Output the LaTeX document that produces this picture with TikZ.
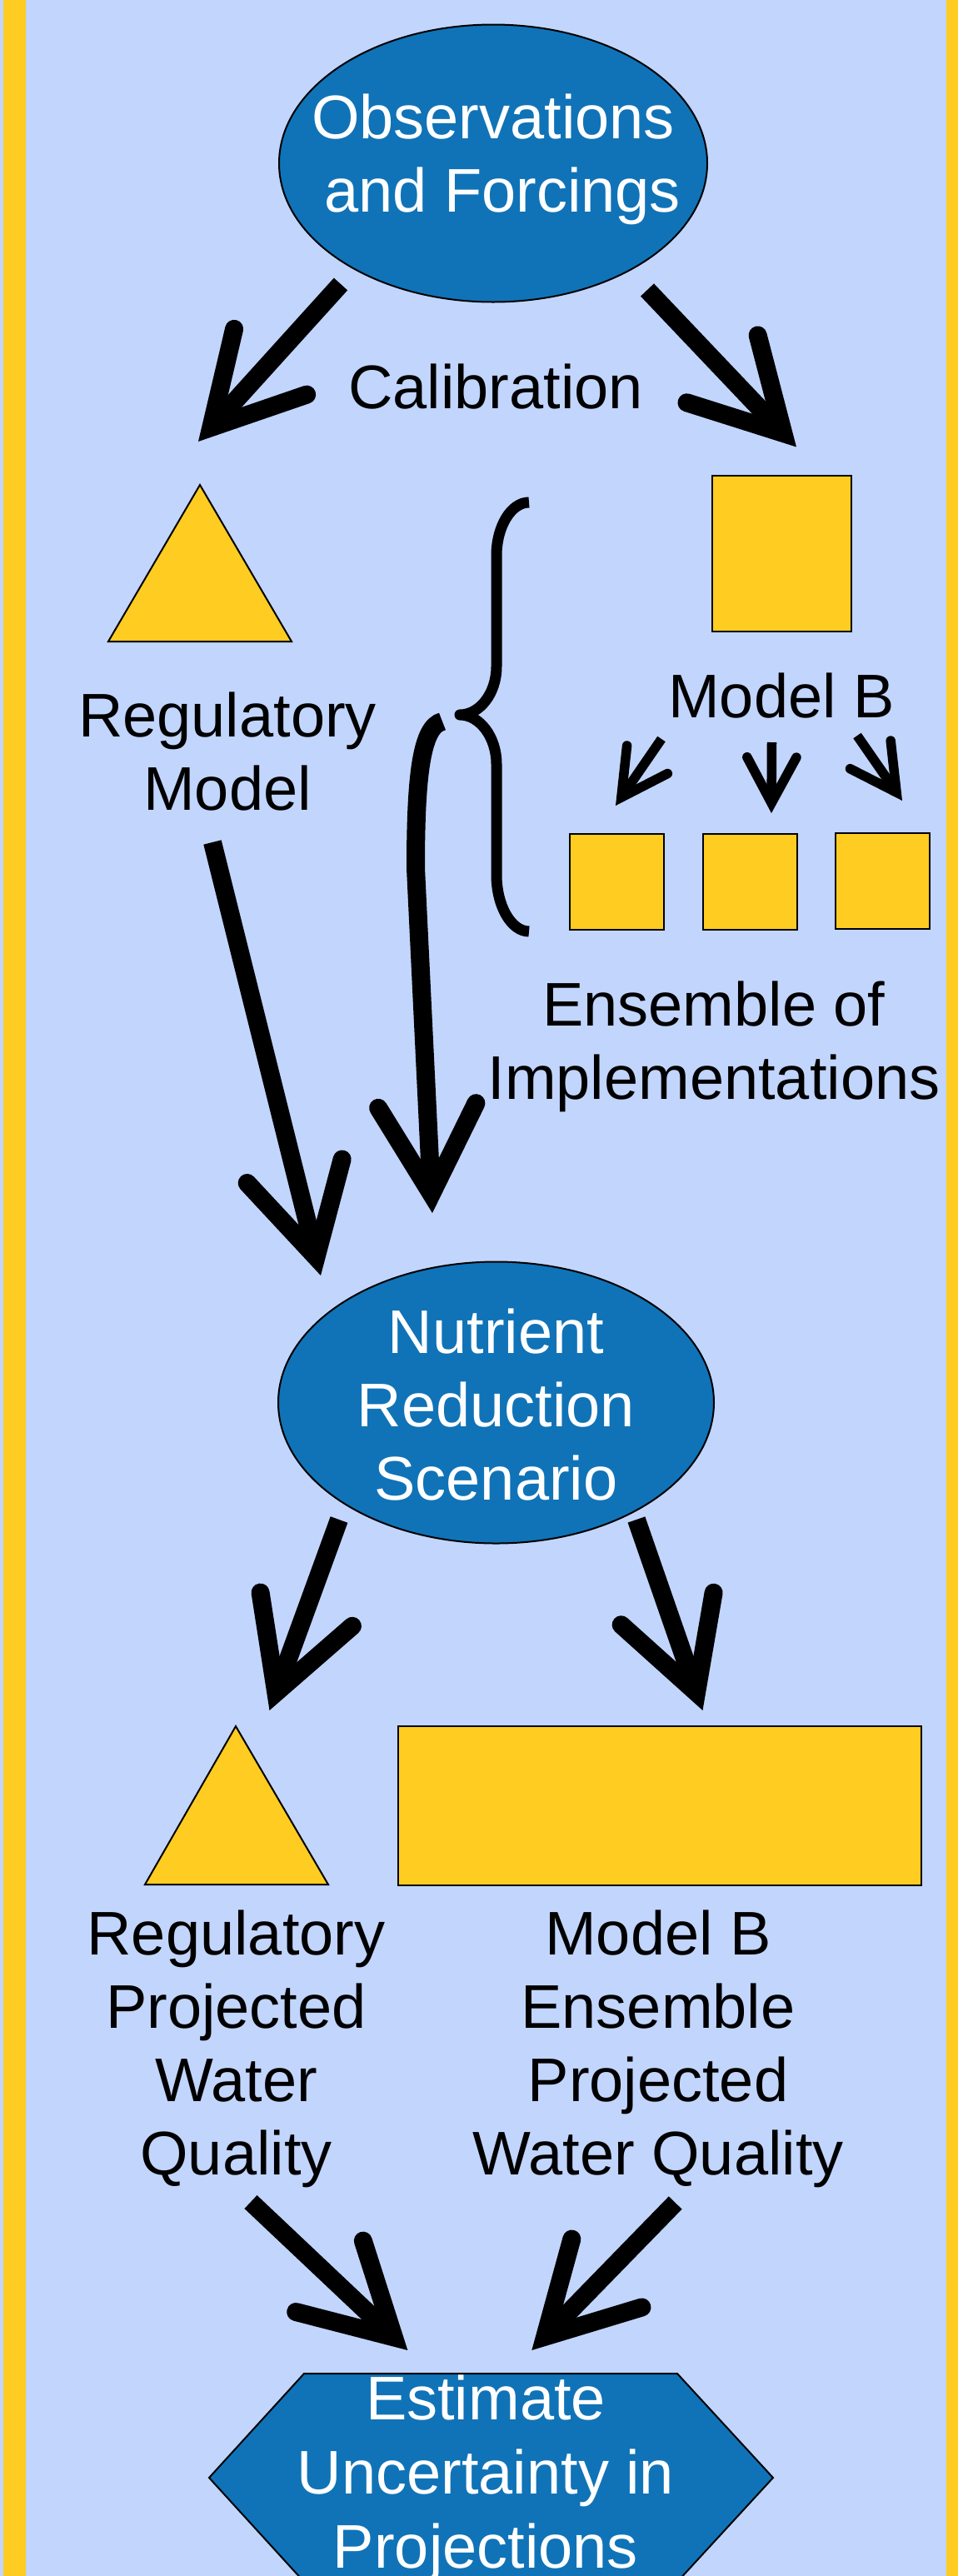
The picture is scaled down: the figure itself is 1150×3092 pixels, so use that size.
\documentclass[tikz,border=0pt]{standalone}
\usepackage{fontspec}
\setmainfont{Liberation Sans}
\usetikzlibrary{calc,shapes.geometric}
\definecolor{bgblue}{RGB}{194,213,253}
\definecolor{yel}{RGB}{255,204,34}
\definecolor{ellblue}{RGB}{16,115,183}
\newcommand\topstrut{\rule{0pt}{60pt}}
\newcommand\botstrut[1]{\rule[-#1]{0pt}{#1}}
% #1 direction reference, #2 tip, #3 style, #4 apex back-off, #5 barb length, #6 half angle
\newcommand\headat[6]{%
  \coordinate (#2a) at ($(#2)!#4!(#1)$);
  \draw[#3, line cap=round, line join=miter] ($(#2a)!#5!#6:(#1)$) -- (#2a) -- ($(#2a)!#5!-#6:(#1)$);
}
\newcommand\bigarrow[2]{\headat{#1}{#2}{bigline}{22.8pt}{121.5pt}{28.9}\draw[bigline] (#1) -- (#2a);}
\newcommand\smallarrow[2]{\headat{#1}{#2}{smallline}{12.1pt}{62.4pt}{28.3}\draw[smallline] (#1) -- (#2a);}
\begin{document}
\begin{tikzpicture}[x=1pt,y=-1pt,
  lbl/.style={font=\fontsize{74pt}{88pt}\selectfont, align=center, inner sep=0pt, text=black},
  wlbl/.style={lbl, text=white},
  ell/.style={ellipse, draw=black, line width=2pt, fill=ellblue, wlbl, inner xsep=-80pt, inner ysep=0pt},
  ybox/.style={draw=black, line width=2pt, fill=yel, inner sep=0pt},
  hexa/.style={draw=black, line width=2pt, fill=ellblue},
  bigline/.style={line width=22pt, line cap=butt},
  smallline/.style={line width=11.5pt, line cap=butt},
  bracestyle/.style={line width=13pt, line cap=butt, line join=round},
]
\useasboundingbox (0,0) rectangle (1150,3092);
\clip (0,0) rectangle (1150,3092);
\fill[bgblue] (0,0) rectangle (1150,3092);
\fill[yel] (4,0) rectangle (31,3092);
\fill[yel] (1136,0) rectangle (1150,3092);

% top ellipse
\node[ell, minimum width=514pt, minimum height=333pt] (obs) at (592,196)
  {\topstrut Observations\\\hspace*{22pt}and Forcings\botstrut{31pt}};
\node[lbl, anchor=base] (cal) at (595,490) {Calibration};

% regulatory model
\draw[ybox] (240,582) -- (350,770) -- (130,770) -- cycle;
\node[lbl, anchor=north] (reg) at (273,824) {\topstrut Regulatory\\Model};

% model B
\node[ybox, minimum width=167pt, minimum height=187pt] (mb) at (938.5,664.5) {};
\node[lbl, anchor=base] (mblbl) at (938,861) {Model B};
\node[ybox, minimum width=113pt, minimum height=115pt] (e1) at (740.5,1058.5) {};
\node[ybox, minimum width=113pt, minimum height=115pt] (e2) at (900.5,1058) {};
\node[ybox, minimum width=113pt, minimum height=115pt] (e3) at (1059.5,1057) {};
\node[lbl, anchor=north] (ens) at (857,1171) {\topstrut Ensemble of\\Implementations};

% brace
\draw[bracestyle] (635,603) .. controls (613.5,603) and (596,632) .. (596,667) -- (596,800)
  .. controls (596,832) and (576,858) .. (552,858)
  .. controls (576,858) and (596,885) .. (596,917) -- (596,1050)
  .. controls (596,1087) and (613.5,1118) .. (635,1118);

% nutrient ellipse
\node[ell, minimum width=523pt, minimum height=325pt] (nut) at (595.5,1683.5)
  {\topstrut Nutrient\\Reduction\\Scenario\botstrut{3pt}};

% lower shapes
\draw[ybox] (283,2072) -- (394,2262) -- (174,2262) -- cycle;
\node[ybox, minimum width=627.6pt, minimum height=190.5pt] (ens2) at (791.8,2167.7) {};
\node[lbl, anchor=north] (regq) at (283.5,2286) {\topstrut Regulatory\\Projected\\Water\\Quality};
\node[lbl, anchor=north] (mbq) at (790,2286) {\topstrut Model B\\Ensemble\\Projected\\Water Quality};

% hexagon
\draw[hexa] (365,2849) -- (813,2849) -- (928,2974) -- (813,3099) -- (365,3099) -- (251,2974) -- cycle;
\node[wlbl, anchor=north, font=\fontsize{74pt}{89pt}\selectfont] (est) at (583,2844)
  {\topstrut Estimate\\Uncertainty in\\Projections};

% arrow end points
\coordinate (s1) at (409,341);   \coordinate (t1) at (238,530);
\coordinate (s2) at (777,348);   \coordinate (t2) at (956,536.5);
\coordinate (s3) at (255,1011);  \coordinate (t3) at (385,1531);
\coordinate (s4) at (531,866);   \coordinate (k4) at (499,1042); \coordinate (t4) at (519,1456);
\coordinate (s5) at (407,1824);  \coordinate (t5) at (323.5,2053);
\coordinate (s6) at (764,1824);  \coordinate (t6) at (843.5,2053);
\coordinate (s7) at (301,2643);  \coordinate (t7) at (489.4,2821);
\coordinate (s8) at (810.7,2644);\coordinate (t8) at (638.3,2821);
\coordinate (sa) at (794,887);   \coordinate (ta) at (739,967);
\coordinate (sb) at (926.5,891); \coordinate (tb) at (926,976);
\coordinate (sc) at (1029,883);  \coordinate (tc) at (1083,961);

\bigarrow{s1}{t1}
\bigarrow{s2}{t2}
\bigarrow{s3}{t3}
\headat{k4}{t4}{bigline}{22.8pt}{121.5pt}{28.9}
\draw[bigline] (s4) .. controls (506,872) and (499,930) .. (k4) -- (t4a);
\bigarrow{s5}{t5}
\bigarrow{s6}{t6}
\bigarrow{s7}{t7}
\bigarrow{s8}{t8}
\smallarrow{sa}{ta}
\smallarrow{sb}{tb}
\smallarrow{sc}{tc}
\end{tikzpicture}
\end{document}
